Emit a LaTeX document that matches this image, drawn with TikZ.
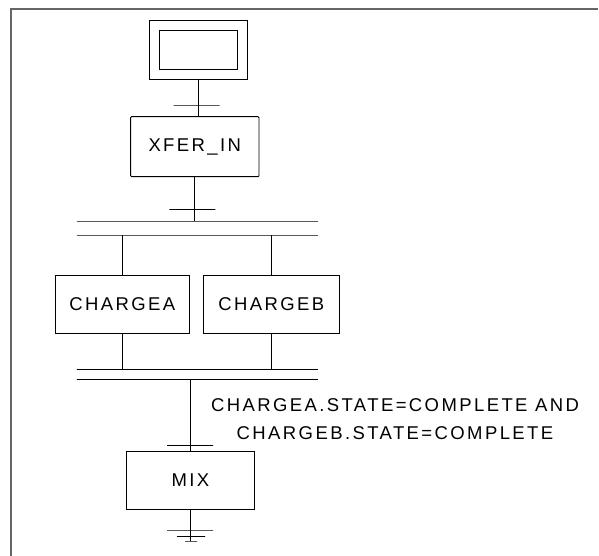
\documentclass[tikz,border=0pt]{standalone}
\usepackage{fontspec}
\setmainfont{Liberation Sans}[LetterSpace=13]
\usetikzlibrary{positioning}

\begin{document}
\begin{tikzpicture}[x=1pt, y=-1pt, line width=0.9pt,
				schritt/.style={draw, inner sep=0pt, font=\fontsize{18.5}{28}\selectfont},
				balken/.style={draw, inner sep=0pt, minimum height=0pt},
				trans/.style={balken, minimum width=46},
				rahmen/.style={draw=black!60, line width=1.6pt}]
				\useasboundingbox (0,0) rectangle (599,556);
				% Rahmen
				\draw[rahmen] (11,556) -- (11,9) -- (598,9);
				% Schritte
				\node[schritt, minimum width=98, minimum height=58.6] (init) at (198,50) {};
				\node[schritt, minimum width=78, minimum height=38.3] (initin) at (init) {};
				\node[schritt, rounded corners=1pt, minimum width=128.3, minimum height=60] (xfer) at (194.8,146.7) {XFER\_IN};
				\node[schritt, minimum width=134.7, minimum height=58] (chargea) at (122.35,304.3) {CHARGEA};
				\node[schritt, minimum width=136.7, minimum height=58] (chargeb) at (271.35,304.3) {CHARGEB};
				\node[schritt, minimum width=127.3, minimum height=57.3] (mix) at (190.35,480.35) {MIX};
				% Transitionen und Balken
				\node[trans] (t1) at (196.5,105) {};
				\node[trans] (t2) at (192.3,209.3) {};
				\node[trans] (t3) at (190,445.7) {};
				\foreach \n/\y in {forkA/221, forkB/235, joinA/369.3, joinB/379.3}
					\node[balken, minimum width=241] (\n) at (197.3,\y) {};
				% Bedingung
				\node[font=\fontsize{18.5}{28}\selectfont, align=center, inner sep=0pt] (cond) at (395,419)
					{CHARGEA.STATE=COMPLETE AND\\CHARGEB.STATE=COMPLETE};
				% Ende
				\node[trans] (e1) at (190,530) {};
				\node[balken, minimum width=28] (e2) at (191,536.7) {};
				\node[balken, minimum width=12] (e3) at (191,541) {};
				% Verbindungen
				\draw (init.south) -- (init.south |- xfer.north);
				\draw (xfer.south) -- (xfer.south |- forkA.north);
				\draw (forkB.south -| chargea.north) -- (chargea.north);
				\draw (forkB.south -| chargeb.north) -- (chargeb.north);
				\draw (chargea.south) -- (chargea.south |- joinA.north);
				\draw (chargeb.south) -- (chargeb.south |- joinA.north);
				\draw (mix.north |- joinB.south) -- (mix.north);
				\draw (mix.south) -- (mix.south |- e3.center);
			\end{tikzpicture}
\end{document}
